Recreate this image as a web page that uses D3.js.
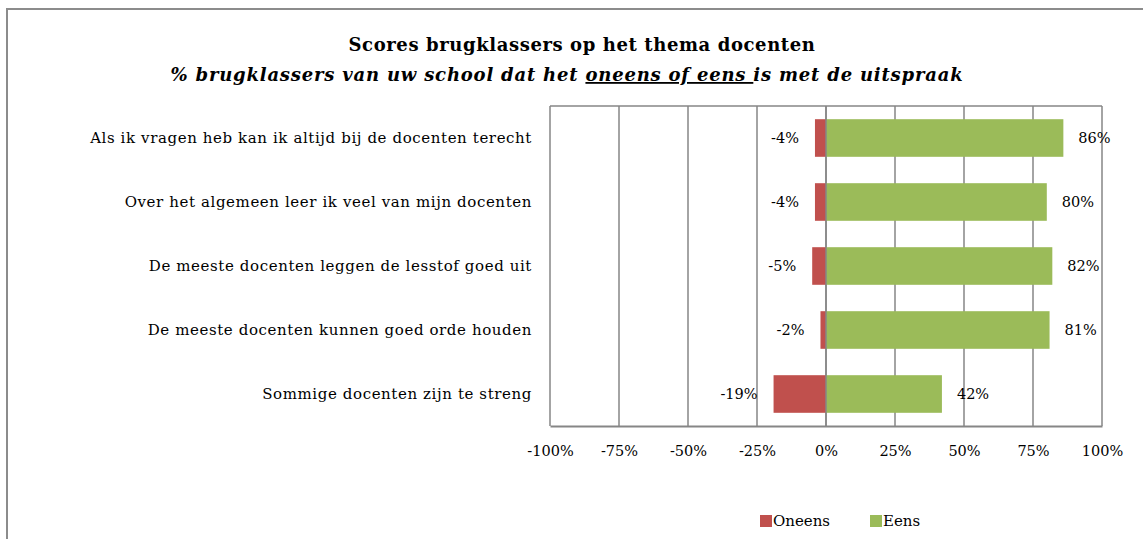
<!DOCTYPE html>
<html><head><meta charset="utf-8">
<script src="https://cdn.jsdelivr.net/npm/d3@7"></script>
<style>
html,body{margin:0;padding:0;background:#fff;}
text{font-family:"DejaVu Serif",serif;fill:#000;}
</style></head>
<body>
<svg id="chart" width="1143" height="539"></svg>
<script>
const categories = [
  "Als ik vragen heb kan ik altijd bij de docenten terecht",
  "Over het algemeen leer ik veel van mijn docenten",
  "De meeste docenten leggen de lesstof goed uit",
  "De meeste docenten kunnen goed orde houden",
  "Sommige docenten zijn te streng"
];
const oneens = [-4, -4, -5, -2, -19];
const eens = [86, 80, 82, 81, 42];
const tickValues = [-100, -75, -50, -25, 0, 25, 50, 75, 100];
const seriesNames = ["Oneens", "Eens"];
const colors = ["#C0504D", "#9BBB59"];

const svg = d3.select("#chart");
const W = 1143, H = 539;
const plot = {left: 550, right: 1102, top: 106, bottom: 426};
const FF = "'DejaVu Serif',serif";

// outer frame
svg.append("path").attr("d", `M7,${H} L7,9 L${W},9`)
  .attr("fill","none").attr("stroke","#8c8c8c").attr("stroke-width",2);

// title
svg.append("text").attr("x",582).attr("y",51).attr("text-anchor","middle")
  .style("font-weight","bold").style("font-size","18px").style("letter-spacing","0.6px")
  .text("Scores brugklassers op het thema docenten");
const sub = svg.append("text").attr("x",567).attr("y",81).attr("text-anchor","middle")
  .style("font-style","italic").style("font-weight","bold").style("font-size","18px")
  .style("letter-spacing","0.8px");
sub.append("tspan").text("% brugklassers van uw school dat het ");
sub.append("tspan").style("text-decoration","underline").text("oneens of eens ");
sub.append("tspan").text("is met de uitspraak");

const x = d3.scaleLinear().domain([-100,100]).range([plot.left, plot.right]);
const y = d3.scaleBand().domain(categories).range([plot.top, plot.bottom])
  .paddingInner(0.4125).paddingOuter(0.20625);

// gridlines
svg.append("g").selectAll("line").data(tickValues).join("line")
  .attr("x1", d=>x(d)).attr("x2", d=>x(d))
  .attr("y1", plot.top).attr("y2", plot.bottom)
  .attr("stroke","#868686").attr("stroke-width",1.5);
svg.append("line").attr("x1",plot.left).attr("x2",plot.right).attr("y1",plot.top).attr("y2",plot.top)
  .attr("stroke","#868686").attr("stroke-width",1.5);

// bars
const rows = categories.map((c,i)=>({c, neg: oneens[i], pos: eens[i]}));
svg.append("g").selectAll("rect").data(rows).join("rect")
  .attr("x", d=>x(d.neg)).attr("width", d=>x(0)-x(d.neg))
  .attr("y", d=>y(d.c)).attr("height", y.bandwidth())
  .attr("fill", colors[0]);
svg.append("g").selectAll("rect").data(rows).join("rect")
  .attr("x", x(0)).attr("width", d=>x(d.pos)-x(0))
  .attr("y", d=>y(d.c)).attr("height", y.bandwidth())
  .attr("fill", colors[1]);
svg.append("line").attr("x1",x(0)).attr("x2",x(0)).attr("y1",plot.top).attr("y2",plot.bottom)
  .attr("stroke","#868686").attr("stroke-width",1.5);

// bottom axis
const xAxis = d3.axisBottom(x).tickValues(tickValues).tickSize(0).tickPadding(20)
  .tickFormat(d=>d+"%");
const gx = svg.append("g").attr("transform",`translate(0,${plot.bottom})`).call(xAxis);
gx.attr("font-family", null).attr("font-size", null);
gx.select(".domain").attr("stroke","#868686").attr("stroke-width",2);
gx.selectAll("text").style("font-size","14.5px").style("font-family",FF).attr("fill","#000");

// category labels
const yAxis = d3.axisLeft(y).tickSize(0).tickPadding(18);
const gy = svg.append("g").attr("transform",`translate(${plot.left},0)`).call(yAxis);
gy.attr("font-family", null).attr("font-size", null);
gy.select(".domain").remove();
gy.selectAll("text").style("font-size","15px").style("letter-spacing","0.6px")
  .style("font-family",FF).attr("fill","#000");

// value labels
svg.append("g").selectAll("text").data(rows).join("text")
  .attr("x", d=>x(d.neg)-16).attr("y", d=>y(d.c)+y.bandwidth()/2).attr("dy","0.35em")
  .attr("text-anchor","end").style("font-size","14.5px").text(d=>d.neg+"%");
svg.append("g").selectAll("text").data(rows).join("text")
  .attr("x", d=>x(d.pos)+15).attr("y", d=>y(d.c)+y.bandwidth()/2).attr("dy","0.35em")
  .attr("text-anchor","start").style("font-size","14.5px").text(d=>d.pos+"%");

// legend
const legend = svg.append("g").attr("transform","translate(760,521)");
const items = [{name: seriesNames[0], color: colors[0], dx: 0}, {name: seriesNames[1], color: colors[1], dx: 110}];
const li = legend.selectAll("g").data(items).join("g").attr("transform", d=>`translate(${d.dx},0)`);
li.append("rect").attr("x",0).attr("y",-6).attr("width",12).attr("height",12).attr("fill",d=>d.color);
li.append("text").attr("x",13).attr("y",0).attr("dy","0.35em").style("font-size","15px").text(d=>d.name);
</script>
</body></html>
